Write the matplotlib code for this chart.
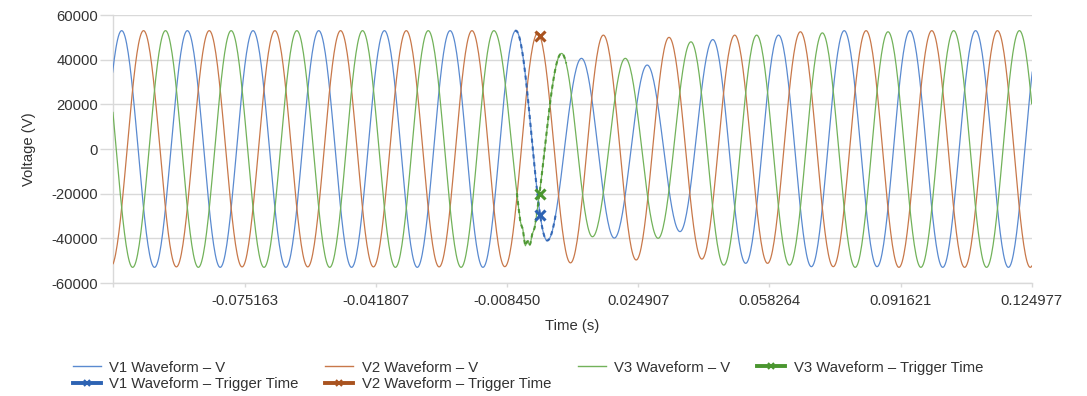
import numpy as np
import matplotlib
matplotlib.use("Agg")
import matplotlib.pyplot as plt
from matplotlib.lines import Line2D

plt.rcParams['font.family'] = ['Liberation Sans', 'DejaVu Sans']

# ---------------- data ----------------
half_period_ms = 8.350  # ~60 Hz system

# V1 (blue) extrema: first extremum time (ms) and extrema values (V)
v1_first_ms = -114.74
v1_extrema = [-53000, 53000, -53000, 53000, -53000, 53000, -53000, 53000,
              -53000, 53000, -53000, 53000, -53000, 53000,
              -41000, 40600, -39900, 37600, -37000, 49000, -51200, 51000,
              -52700, 53000, -52700, 53000, -53000, 53000, -53000, 53000]
v1_time_shift_ms = {14: -0.35}

# V2 (brown) extrema
v2_first_ms = -117.53
v2_extrema = [53000, -52800, 53000, -52800, 53000, -52800, 53000, -52800,
              53000, -52800, 53000, -52800, 53000, -52700,
              51800, -51000, 51000, -49700, 50000, -49300, 51000, -51200,
              52500, -52700, 53000, -53000, 53000, -53000, 53000, -53000,
              53000]
v2_time_shift_ms = {}

# V3 (green) extrema
v3_first_ms = -111.95
v3_extrema = [53000, -53000, 53000, -53000, 53000, -53000, 53000, -53000,
              53000, -53000, 53000, -53000, 53000,
              -42500, 42800, -39300, 40600, -40000, 48000, -52000, 51000,
              -52000, 52000, -53000, 52500, -53000, 53000, -53000, 53000,
              -53000]
v3_time_shift_ms = {13: 0.3, 14: 0.5}

# fault transient ripple on V3 near its first faulted trough (ms, V)
v3_ripple_ms = [-6.0, -5.0, -4.4, -3.8, -3.2, -2.6, -2.0, -1.4, -0.8]
v3_ripple_v = [0, -1200, 1500, -2500, 1800, -1500, 1200, -800, 0]

# trigger-time points
trig_time_s = [0.0]
v1_trig = [-29500]
v2_trig = [50800]
v3_trig = [-20000]
# windows (ms) highlighted as trigger-time series
v1_trig_win = (-6.4, 4.0)
v2_trig_win = (-1.2, 0.4)
v3_trig_win = (-6.1, 6.8)

x_ticks = [-0.108520, -0.075163, -0.041807, -0.008450, 0.024907, 0.058264,
           0.091621, 0.124977]
x_ticklabels = ['', '-0.075163', '-0.041807', '-0.008450', '0.024907',
                '0.058264', '0.091621', '0.124977']
y_ticks = [-60000, -40000, -20000, 0, 20000, 40000, 60000]

labels = ['V1 Waveform \u2013 V', 'V2 Waveform \u2013 V', 'V3 Waveform \u2013 V',
          'V1 Waveform \u2013 Trigger Time', 'V2 Waveform \u2013 Trigger Time',
          'V3 Waveform \u2013 Trigger Time']

c1, c2, c3 = '#5A8AD0', '#C8784A', '#72B25A'
d1, d2, d3 = '#2D63B3', '#A9531F', '#4A962F'


def extrema_times(first_ms, n, shifts):
    t = first_ms + half_period_ms * np.arange(n)
    for k, d in shifts.items():
        t[k] += d
    return t


def waveform(first_ms, vals, shifts, n_per=40):
    t_ext = extrema_times(first_ms, len(vals), shifts)
    ts, vs = [], []
    for i in range(len(vals) - 1):
        s = np.linspace(0, 1, n_per, endpoint=False)
        ts.append(t_ext[i] + (t_ext[i + 1] - t_ext[i]) * s)
        v0, v1 = vals[i], vals[i + 1]
        vs.append((v0 + v1) / 2 + (v0 - v1) / 2 * np.cos(np.pi * s))
    return np.concatenate(ts), np.concatenate(vs)


t1, w1 = waveform(v1_first_ms, v1_extrema, v1_time_shift_ms)
t2, w2 = waveform(v2_first_ms, v2_extrema, v2_time_shift_ms)
t3, w3 = waveform(v3_first_ms, v3_extrema, v3_time_shift_ms)
w3 = w3 + np.interp(t3, v3_ripple_ms, v3_ripple_v, left=0, right=0)

fig = plt.figure(figsize=(10.87, 3.96), dpi=100)
ax = fig.add_axes([0.10423, 0.28535, 0.84490, 0.67677])

ax.plot(t1 / 1000, w1, color=c1, lw=0.9, zorder=3)
ax.plot(t2 / 1000, w2, color=c2, lw=0.9, zorder=3)
ax.plot(t3 / 1000, w3, color=c3, lw=0.9, zorder=3)

for (t, w, win, col) in [(t1, w1, v1_trig_win, d1), (t2, w2, v2_trig_win, d2),
                         (t3, w3, v3_trig_win, d3)]:
    m = (t >= win[0]) & (t <= win[1])
    ax.plot(t[m] / 1000, w[m], color=col, lw=1.5, ls=(0, (2.0, 1.8)), zorder=4,
            alpha=0.9)

ax.plot(trig_time_s, v1_trig, ls='none', marker='x', ms=7, mew=2.2, color=d1, zorder=5)
ax.plot(trig_time_s, v2_trig, ls='none', marker='x', ms=7, mew=2.2, color=d2, zorder=5)
ax.plot(trig_time_s, v3_trig, ls='none', marker='x', ms=7, mew=2.2, color=d3, zorder=5)

ax.set_xlim(x_ticks[0], x_ticks[-1])
ax.set_ylim(-60000, 60000)
ax.set_xticks(x_ticks)
ax.set_xticklabels(x_ticklabels)
ax.set_yticks(y_ticks)
ax.set_yticklabels([str(v) for v in y_ticks])

grid_col = '#D9D9D9'
txt_col = '#333333'
ax.grid(axis='y', color=grid_col, lw=1.0, zorder=0)
for s in ['top', 'right']:
    ax.spines[s].set_visible(False)
for s in ['left', 'bottom']:
    ax.spines[s].set_color(grid_col)
    ax.spines[s].set_linewidth(1.0)
ax.tick_params(axis='y', length=9.5, width=1.0, color=grid_col, pad=1.5,
               labelsize=10.75, labelcolor=txt_col)
ax.tick_params(axis='x', length=3.0, width=1.0, color=grid_col, pad=5,
               labelsize=10.75, labelcolor=txt_col)
ax.set_xlabel('Time (s)', fontsize=10.75, color=txt_col, labelpad=8)
ax.set_ylabel('Voltage (V)', fontsize=10.75, color=txt_col, labelpad=11)

h1 = Line2D([], [], color=c1, lw=1.0)
h2 = Line2D([], [], color=c2, lw=1.0)
h3 = Line2D([], [], color=c3, lw=1.0)
ht1 = Line2D([], [], color=d1, lw=2.8, marker='x', ms=4.5, mew=1.5)
ht2 = Line2D([], [], color=d2, lw=2.8, marker='x', ms=4.5, mew=1.5)
ht3 = Line2D([], [], color=d3, lw=2.8, marker='x', ms=4.5, mew=1.5)

leg = fig.legend([h1, ht1, h2, ht2, h3, ht3],
                 [labels[0], labels[3], labels[1], labels[4], labels[2], labels[5]],
                 ncol=4, loc='center left', bbox_to_anchor=(72.7 / 1087, 1 - 376 / 396),
                 frameon=False, fontsize=10.75, handlelength=1.87, handletextpad=0.57,
                 columnspacing=1.8, labelspacing=0.18, borderpad=0.0, borderaxespad=0.0,
                 numpoints=1)
for t in leg.get_texts():
    t.set_color(txt_col)

fig.savefig('out.png', dpi=100)
